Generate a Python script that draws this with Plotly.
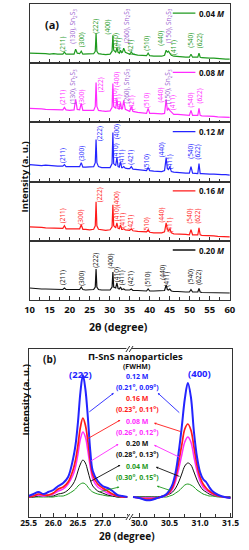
import plotly.graph_objects as go

W, H = 249, 550
def px(x):
    return x / W
def py(y):
    return 1 - y / H

FONT = "Open Sans"

# ---------------- Panel (a) data: XRD patterns (intensity a.u., offset per panel) -------------
two_theta_a = [10, 11, 12, 13, 14, 15, 16, 17, 18.3, 18.7, 19.1, 20, 21.1, 21.5, 21.9, 22.5, 22.9, 23.3,
               24, 25, 26.0, 26.4, 26.6, 26.8, 27.2, 28, 29, 30.1, 30.6, 30.8, 31.0, 31.5, 31.8, 32.1,
               32.4, 32.7, 33.0, 33.2, 33.5, 33.9, 34.5, 35.0, 35.4, 35.8, 37, 38, 39.2, 39.6, 40.0, 41,
               42, 43, 43.7, 44.1, 44.4, 44.7, 45.0, 45.4, 46, 47, 48, 49, 49.9, 50.3, 50.7, 51.5, 52.0,
               52.3, 52.6, 53, 54, 55, 56, 57, 58, 59, 60]

int_004 = [10, 10, 10, 9.5, 9.5, 9, 9.5, 9, 9, 11, 9, 9, 9, 14, 10, 9.5, 12, 9,
           9, 9, 9.5, 12, 30, 12, 9.5, 9, 8.5, 9, 12, 28, 13, 11, 15, 11,
           10, 13, 10.5, 11, 15, 11, 9.5, 9, 11, 9, 8, 8, 7.5, 10, 7.5, 7,
           7, 7, 8, 13, 11, 12, 10, 8, 7, 6.5, 6, 6, 6, 9, 6, 6, 6,
           10, 6, 5.5, 5, 5, 5, 4.5, 4.5, 4, 4]
int_008 = [14, 14, 13.5, 13.5, 13, 13, 13, 12.5, 12.5, 15, 12.5, 12, 12.5, 23, 13, 12.5, 19, 12,
           12, 11.5, 12, 16, 40, 16, 12, 11.5, 11, 11.5, 15, 39, 16, 14, 23, 14,
           13, 20, 13, 14, 22, 13, 11.5, 11, 16, 11, 10, 9.5, 9, 14, 9, 9,
           8.5, 8.5, 9, 23, 12, 14, 12, 10, 8, 8, 7.5, 7, 7, 12, 7, 7, 7,
           14, 7, 6.5, 6.5, 6, 6, 5.5, 5.5, 5, 5]
int_012 = [17, 16.5, 16.5, 16, 16.5, 16, 15.5, 15.5, 15.5, 17, 15, 15, 15, 15.5, 15, 15, 19, 14.5,
           14.5, 14.5, 15, 19, 42, 19, 15, 14, 14, 14, 18, 49, 18, 16, 24, 15,
           14.5, 20, 14, 14, 15, 13.5, 13, 13, 15, 12.5, 12, 11.5, 11, 14, 11, 10.5,
           10, 10, 11, 24, 13, 12, 15, 10, 9.5, 9, 9, 8.5, 8.5, 15, 8.5, 8, 8,
           18, 8, 8, 7.5, 7.5, 7.5, 7, 7, 7, 6.5]
int_016 = [14, 14, 13.5, 13.5, 13, 13, 12.5, 12.5, 12.5, 15, 12, 12, 12, 12.5, 12, 12, 16, 11.5,
           11.5, 11, 11.5, 15, 39, 15, 11.5, 11, 10.5, 11, 14, 36, 15, 13, 18, 12.5,
           12, 16, 11.5, 11.5, 12, 11, 10.5, 10.5, 12, 10, 9.5, 9, 9, 11, 8.5, 8,
           8, 8, 9, 18, 11, 10, 12, 8, 7, 7, 6.5, 6.5, 6, 11, 6, 6, 6,
           13, 6, 5.5, 5.5, 5, 5, 4.5, 4.5, 4, 4]
int_020 = [12, 11.5, 11.5, 11, 11, 11, 11, 10.5, 10.5, 12, 10.5, 10.5, 10.5, 11, 10.5, 10.5, 13, 10.5,
           10, 10, 10.5, 13, 31, 13, 10.5, 10, 10, 10, 13, 28, 13, 12, 17, 11.5,
           11, 13, 10.5, 10.5, 11, 10, 10, 10, 11, 9.5, 9.5, 9, 9, 11, 9, 9,
           9, 9, 9.5, 15, 10.5, 10, 11, 9, 8.5, 8.5, 8, 8, 8, 10.5, 8, 8, 8,
           11.5, 8, 7.5, 7.5, 7.5, 7, 7, 7, 7, 7]

conc_labels = ["0.04", "0.08", "0.12", "0.16", "0.20"]
colors = ["#1f9a1f", "#ff2cff", "#2424ff", "#ff1a1a", "#111111"]
sn2s3_color = "#9b5fd0"
series_a = [int_004, int_008, int_012, int_016, int_020]
ticks_a = [10, 15, 20, 25, 30, 35, 40, 45, 50, 55, 60]

hkl_text = ["(211)", "(130), Sn<sub>2</sub>S<sub>3</sub>", "(300)", "(222)", "(400)", "(410)", "(411)",
            "(260), Sn<sub>2</sub>S<sub>3</sub>", "(421)", "(510)", "(440)",
            "(150), Sn<sub>2</sub>S<sub>3</sub>", "(411)", "(540)", "(622)"]
hkl_is_sn2s3 = [False, True, False, False, False, False, False, True, False, False, False, True, False, False, False]
# label positions (2theta, height) per panel; None = label absent
lab_x = [
    [18.2, 20.75, 22.85, 26.6, 29.4, 31.3, 32.2, 34.1, 35.2, 39.2, 42.7, 44.6, 45.75, 50.2, 52.3],
    [18.2, 20.75, 22.9, 27.8, 31.7, 31.3, 32.3, 34.1, 35.3, 39.2, 42.6, 44.5, 45.75, 50.1, 52.3],
    [18.2, None, 22.9, 27.45, 31.7, 31.5, 33.05, None, 35.1, 39.2, 43.0, None, 45.0, 50.1, 52.0],
    [18.2, None, 22.8, 27.45, 31.7, 31.7, 33.3, None, 35.3, 39.2, 43.0, None, 45.0, 50.0, 52.0],
    [18.1, None, 22.8, 26.3, 30.2, 31.6, 32.9, None, 35.1, 39.2, 43.0, None, 44.0, 50.1, 52.0],
]
lab_y = [
    [19, 37, 23, 36.5, 36, 23, 18, 37, 16, 20, 25, 37, 16, 23, 23],
    [25, 36, 25, 38, 43, 27, 21, 36, 20, 22, 27, 36, 20, 22, 27],
    [26, None, 28, 48, 50, 31, 25, None, 24, 20, 32, None, 20, 30, 30],
    [25, None, 24, 46, 42, 27, 21, None, 19, 16, 26, None, 16, 25, 25],
    [22, None, 22, 40, 39, 25, 22, None, 21, 21, 28, None, 21, 23, 23],
]

# ---------------- Panel (b) data: (222) and (400) peaks -------------
two_theta_left = [25.5, 25.6, 25.7, 25.8, 25.9, 26.0, 26.1, 26.2, 26.3, 26.4, 26.45, 26.5, 26.55, 26.6,
                  26.65, 26.7, 26.75, 26.8, 26.9, 27.0, 27.1, 27.2, 27.3, 27.4, 27.5]
two_theta_right = [29.9, 30.0, 30.1, 30.2, 30.3, 30.4, 30.45, 30.5, 30.55, 30.6, 30.65, 30.7, 30.75, 30.8,
                   30.85, 30.9, 30.95, 31.0, 31.05, 31.1, 31.15, 31.2, 31.3, 31.4, 31.5]
ticks_left = [25.5, 26.0, 26.5, 27.0]
ticks_right = [30.0, 30.5, 31.0, 31.5]
b_left = {
    "0.04": [20, 20, 20, 20, 20, 20, 21, 21, 23, 26, 28, 31, 33, 34, 33, 30, 27, 25, 23, 22, 21, 21, 20, 20, 20],
    "0.20": [20, 20, 21, 21, 21, 21, 23, 24, 27, 33, 38, 46, 53, 57, 54, 46, 37, 31, 26, 24, 22, 21, 20, 20, 20],
    "0.08": [20, 21, 22, 21, 22, 23, 26, 28, 33, 42, 50, 63, 78, 85, 80, 66, 50, 38, 30, 27, 24, 22, 21, 20, 20],
    "0.16": [20, 21, 23, 22, 22, 24, 28, 30, 35, 47, 57, 72, 90, 99, 92, 76, 56, 42, 33, 29, 26, 23, 21, 20, 20],
    "0.12": [21, 23, 25, 23, 25, 27, 31, 34, 40, 58, 72, 95, 125, 142, 128, 100, 66, 46, 36, 31, 29, 26, 22, 21, 20],
}
b_right = {
    "0.04": [20, 20, 20, 20, 20, 20, 20, 21, 22, 24, 26, 29, 32, 33, 32, 30, 27, 25, 23, 22, 21, 21, 20, 20, 20],
    "0.20": [20, 20, 20, 20, 20, 21, 22, 23, 25, 29, 35, 43, 51, 54, 52, 45, 37, 31, 27, 25, 23, 22, 21, 20, 20],
    "0.08": [20, 19, 19, 19, 19, 21, 22, 24, 28, 36, 48, 62, 75, 80, 75, 60, 46, 36, 30, 27, 25, 23, 21, 20, 19],
    "0.16": [20, 19, 18, 18, 19, 21, 22, 25, 30, 40, 55, 72, 88, 93, 87, 70, 52, 40, 33, 29, 26, 24, 21, 20, 19],
    "0.12": [20, 19, 17, 17, 19, 21, 23, 27, 33, 45, 65, 90, 118, 134, 120, 85, 60, 45, 38, 35, 30, 26, 22, 20, 19],
}
b_color = {"0.04": "#1f9a1f", "0.20": "#111111", "0.08": "#ff2cff", "0.16": "#ff1a1a", "0.12": "#2424ff"}
b_width = {"0.04": 1.0, "0.20": 1.0, "0.08": 1.5, "0.16": 1.7, "0.12": 2.0}
fwhm_order = ["0.12", "0.16", "0.08", "0.20", "0.04"]
fwhm_text = {"0.12": "(0.21°, 0.09°)", "0.16": "(0.23°, 0.11°)", "0.08": "(0.26°, 0.12°)",
             "0.20": "(0.28°, 0.13°)", "0.04": "(0.30°, 0.15°)"}

fig = go.Figure()
layout = dict(width=W, height=H, margin=dict(l=0, r=0, t=0, b=0), autosize=False,
              paper_bgcolor="white", plot_bgcolor="white", showlegend=False,
              font=dict(family=FONT, color="#111"))

LC = "#333333"
tops = [4 + 59.2 * i for i in range(5)]
for i in range(5):
    k = i + 1
    fig.add_trace(go.Scatter(x=two_theta_a, y=series_a[i], mode="lines",
                             line=dict(color=colors[i], width=1.2),
                             xaxis=f"x{k}", yaxis=f"y{k}", hoverinfo="skip"))
    layout[f"xaxis{k}"] = dict(domain=[px(22), px(236)], anchor=f"y{k}", range=[10, 60],
                               showline=True, linecolor=LC, linewidth=1.2, mirror=True,
                               ticks="inside", tickmode="array", tickvals=ticks_a, ticklen=4, tickcolor=LC,
                               minor=dict(ticks="inside", tickmode="linear", tick0=10, dtick=2.5,
                                          ticklen=2.5, tickcolor=LC),
                               showgrid=False, zeroline=False, showticklabels=(k == 5),
                               tickfont=dict(size=9.5, family=FONT, weight="bold", color="#111"))
    layout[f"yaxis{k}"] = dict(domain=[py(tops[i] + 59.2), py(tops[i])], anchor=f"x{k}",
                               range=[0, 59.2], showline=True, linecolor=LC, linewidth=1.2,
                               mirror=True, ticks="", showticklabels=False, showgrid=False,
                               zeroline=False)

ann = []
shapes = []
for i in range(5):
    k = i + 1
    for j, t in enumerate(hkl_text):
        if lab_x[i][j] is None:
            continue
        ann.append(dict(x=lab_x[i][j], y=lab_y[i][j], xref=f"x{k}", yref=f"y{k}", text=t,
                        textangle=-90, showarrow=False,
                        font=dict(size=6.5, family=FONT,
                                  color=sn2s3_color if hkl_is_sn2s3[j] else colors[i])))
    # legend line + label
    shapes.append(dict(type="line", xref=f"x{k}", yref=f"y{k}", x0=45.75, x1=51.4, y0=50, y1=50,
                       line=dict(color=colors[i], width=1.3)))
    ann.append(dict(x=51.8, y=50, xref=f"x{k}", yref=f"y{k}", xanchor="left",
                    text=f"<b>{conc_labels[i]} <i>M</i></b>", showarrow=False,
                    font=dict(size=8, family=FONT, color="#111")))

ann.append(dict(x=px(36), y=py(15), xref="paper", yref="paper", text="<b>(a)</b>", showarrow=False,
                font=dict(size=11, family=FONT, color="#111")))
ann.append(dict(x=px(8), y=py(139), xref="paper", yref="paper", text="<b>Intensity (a. u.)</b>",
                textangle=-90, showarrow=False, font=dict(size=9.5, family=FONT, color="#111")))
ann.append(dict(x=px(117), y=py(327), xref="paper", yref="paper", text="<b>2θ (degree)</b>",
                showarrow=False, font=dict(size=10.5, family=FONT, color="#111")))

# ---------------- Panel (b) -------------
for key in ["0.04", "0.20", "0.08", "0.16", "0.12"]:
    fig.add_trace(go.Scatter(x=two_theta_left, y=b_left[key], mode="lines", line_shape="spline",
                             line=dict(color=b_color[key], width=b_width[key]),
                             xaxis="x6", yaxis="y6", hoverinfo="skip"))
    fig.add_trace(go.Scatter(x=two_theta_right, y=b_right[key], mode="lines", line_shape="spline",
                             line=dict(color=b_color[key], width=b_width[key]),
                             xaxis="x7", yaxis="y7", hoverinfo="skip"))

bdom = [py(517), py(349)]
xb_common = dict(showline=True, linecolor=LC, linewidth=1.2, mirror=True, ticks="inside",
                 ticklen=4, tickcolor=LC, tickmode="array", tickformat=".1f",
                 showgrid=False, zeroline=False, ticklabelstandoff=-2,
                 tickfont=dict(size=8.5, family=FONT, weight="bold", color="#111"))
layout["xaxis6"] = dict(domain=[px(21), px(128)], anchor="y6", range=[25.5, 27.53], tickvals=ticks_left,
                        minor=dict(ticks="inside", tickmode="linear", tick0=25.5, dtick=0.25,
                                   ticklen=2.5, tickcolor=LC), **xb_common)
layout["xaxis7"] = dict(domain=[px(128), px(238)], anchor="y7", range=[29.83, 31.52], tickvals=ticks_right,
                        minor=dict(ticks="inside", tickmode="linear", tick0=30.0, dtick=0.25,
                                   ticklen=2.5, tickcolor=LC), **xb_common)
layout["yaxis6"] = dict(domain=bdom, anchor="x6", range=[0, 168], showline=True, linecolor=LC,
                        linewidth=1.2, ticks="", showticklabels=False, showgrid=False, zeroline=False)
layout["yaxis7"] = dict(domain=bdom, anchor="x7", range=[0, 168], side="right", showline=True,
                        linecolor=LC, linewidth=1.2, ticks="", showticklabels=False, showgrid=False,
                        zeroline=False)

# break marks
for yb in (349, 517):
    shapes.append(dict(type="rect", xref="paper", yref="paper", x0=px(125.5), x1=px(131.5),
                       y0=py(yb + 1.5), y1=py(yb - 1.5), fillcolor="white", line=dict(width=0)))
    for xo in (0, 3.5):
        shapes.append(dict(type="line", xref="paper", yref="paper", x0=px(125 + xo), y0=py(yb + 3),
                           x1=px(129 + xo), y1=py(yb - 3), line=dict(color=LC, width=1)))

ann.append(dict(x=px(34), y=py(359), xref="paper", yref="paper", text="<b>(b)</b>", showarrow=False,
                font=dict(size=10, family=FONT, color="#111")))
ann.append(dict(x=px(135), y=py(356), xref="paper", yref="paper", text="<b>Π-SnS nanoparticles</b>",
                showarrow=False, font=dict(size=9.5, family=FONT, color="#111")))
ann.append(dict(x=px(137), y=py(372.5), xref="paper", yref="paper", text="<b>(FWHM)</b>",
                showarrow=False, font=dict(size=7, family=FONT, color="#111")))
ann.append(dict(x=px(62), y=py(383), xref="paper", yref="paper", text="<b>(222)</b>",
                showarrow=False, font=dict(size=9.5, family=FONT, color="#2424ff")))
ann.append(dict(x=px(218), y=py(382), xref="paper", yref="paper", text="<b>(400)</b>",
                showarrow=False, font=dict(size=9.5, family=FONT, color="#2424ff")))
fw_y = {"0.12": 382.5, "0.16": 405, "0.08": 428, "0.20": 450, "0.04": 473}
for key in fwhm_order:
    c = b_color[key]
    ann.append(dict(x=px(137), y=py(fw_y[key]), xref="paper", yref="paper",
                    text=f"<b>{key} M</b>", showarrow=False, font=dict(size=7, family=FONT, color=c)))
    ann.append(dict(x=px(137), y=py(fw_y[key] + 11), xref="paper", yref="paper",
                    text=f"<b>{fwhm_text[key]}</b>", showarrow=False,
                    font=dict(size=7, family=FONT, color=c)))

# pointer lines: (head at label, tail at curve)
pointers = [
    ("0.12", (112, 393), (86, 413)), ("0.12", (159, 393), (182, 414)),
    ("0.16", (119, 420), (84, 440)), ("0.16", (155, 423), (183, 432)),
    ("0.08", (117, 444), (88, 462)), ("0.08", (155, 445), (182, 458)),
    ("0.20", (119, 465), (88, 482)), ("0.20", (157, 467), (182, 477)),
    ("0.04", (118, 487), (97, 492)), ("0.04", (158, 486), (173, 491)),
]
for key, (hx, hy), (tx, ty) in pointers:
    ann.append(dict(x=px(hx), y=py(hy), xref="paper", yref="paper", text="", showarrow=True,
                    ax=tx - hx, ay=ty - hy, arrowhead=2, arrowsize=0.5, arrowwidth=0.9,
                    arrowcolor=b_color[key], standoff=0, startstandoff=0))

ann.append(dict(x=px(9), y=py(437), xref="paper", yref="paper", text="<b>Intensity (a. u.)</b>",
                textangle=-90, showarrow=False, font=dict(size=9.5, family=FONT, color="#111")))
ann.append(dict(x=px(126), y=py(544.5), xref="paper", yref="paper", text="<b>2θ (degree)</b>",
                showarrow=False, font=dict(size=10, family=FONT, color="#111")))

layout["annotations"] = ann
layout["shapes"] = shapes
fig.update_layout(**layout)
fig.write_html("out.html", config={"displayModeBar": False},
               post_script="document.body.style.margin='0';document.body.style.overflow='hidden';")
